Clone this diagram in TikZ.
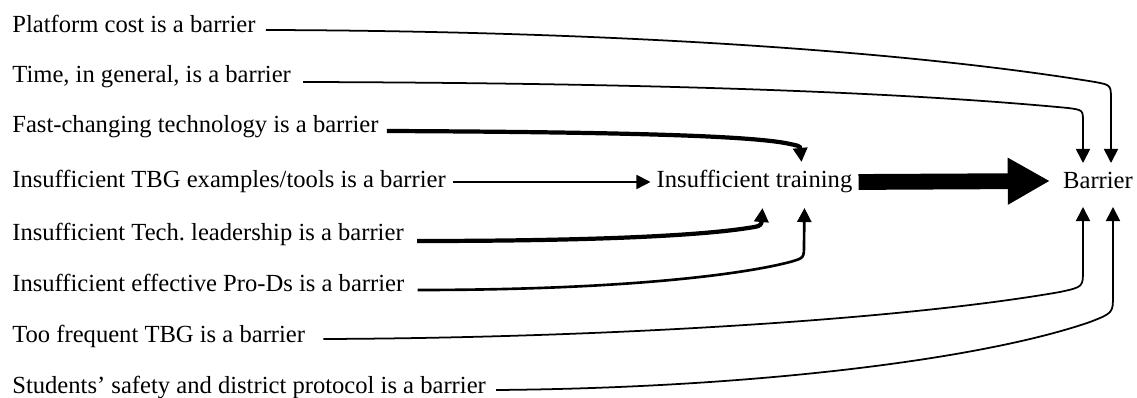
\documentclass[tikz,border=0pt]{standalone}
\usepackage{fontspec}
\setmainfont{Liberation Serif}
\usetikzlibrary{arrows.meta,calc}

\begin{document}
\begin{tikzpicture}[
x=0.2mm,
y=-0.2mm,
>={Triangle[length=8pt,width=8pt]},
every node/.style={font=\fontsize{14}{16}\selectfont},
src/.style={anchor=base west, inner sep=0pt},
link/.style={->, line width=1pt},
midlink/.style={->, line width=1.5pt},
boldlink/.style={->, line width=2.4pt},
bigarrow/.style={-{Triangle[length=24pt,width=25pt]}, line width=9pt}
]
\useasboundingbox (0,0) rectangle (1137,398);

% causes
\node[src] (cost) at (12,33) {Platform cost is a barrier};
\node[src] (time) at (12,83) {Time, in general, is a barrier};
\node[src] (fast) at (12,133) {Fast-changing technology is a barrier};
\node[src] (tbg) at (12,188) {Insufficient TBG examples/tools is a barrier};
\node[src] (tech) at (12,241) {Insufficient Tech.\ leadership is a barrier};
\node[src] (prod) at (12,292) {Insufficient effective Pro-Ds is a barrier};
\node[src] (freq) at (12,343) {Too frequent TBG is a barrier};
\node[src] (safe) at (12,394) {Students’ safety and district protocol is a barrier};

% effects
\node[anchor=base] (train) at (754.5,188) {Insufficient training};
\node[anchor=base] (barrier) at (1098,189) {Barrier};

\coordinate (train-in1) at ($(train.base)+(47,-26)$);
\coordinate (train-in2) at ($(train.base)+(8,20)$);
\coordinate (train-in3) at ($(train.base)+(50,20)$);
\coordinate (bar-in1) at ($(barrier.base)+(-15,-26)$);
\coordinate (bar-in2) at ($(barrier.base)+(13,-26)$);
\coordinate (bar-in3) at ($(barrier.base)+(-15,18)$);
\coordinate (bar-in4) at ($(barrier.base)+(15,18)$);

% into insufficient training
\draw[link] ([xshift=4pt]tbg.east) -- (train.west);
\draw[boldlink] ($(fast.base east)+(8,-2)$) .. controls (600,132) and (740,135) .. (785,143) .. controls (800,146) .. (train-in1);
\draw[boldlink] ($(tech.base east)+(13,0)$) .. controls (620,241) and (710,234) .. (748,228) .. controls (762,226) .. (762,214) -- (train-in2);
\draw[midlink] ($(prod.base east)+(13,-2)$) .. controls (620,290) and (740,275) .. (790,262) .. controls (804,258) .. (804,245) -- (train-in3);

% into barrier
\draw[bigarrow] (train.east) -- ([xshift=-4pt]barrier.west);
\draw[link] ($(cost.base east)+(10,-3)$) .. controls (600,31) and (900,50) .. (1095,82) .. controls (1111,85) .. (1111,100) -- (bar-in2);
\draw[link] ($(time.base east)+(12,-1)$) .. controls (650,83) and (900,92) .. (1068,108) .. controls (1083,110) .. (1083,122) -- (bar-in1);
\draw[link] ($(freq.base east)+(18,-4)$) .. controls (600,338) and (900,320) .. (1060,292) .. controls (1083,287) .. (1083,270) -- (bar-in3);
\draw[link] ($(safe.base east)+(10,-4)$) .. controls (750,388) and (980,360) .. (1090,322) .. controls (1113,313) .. (1113,295) -- (bar-in4);

\end{tikzpicture}
\end{document}
